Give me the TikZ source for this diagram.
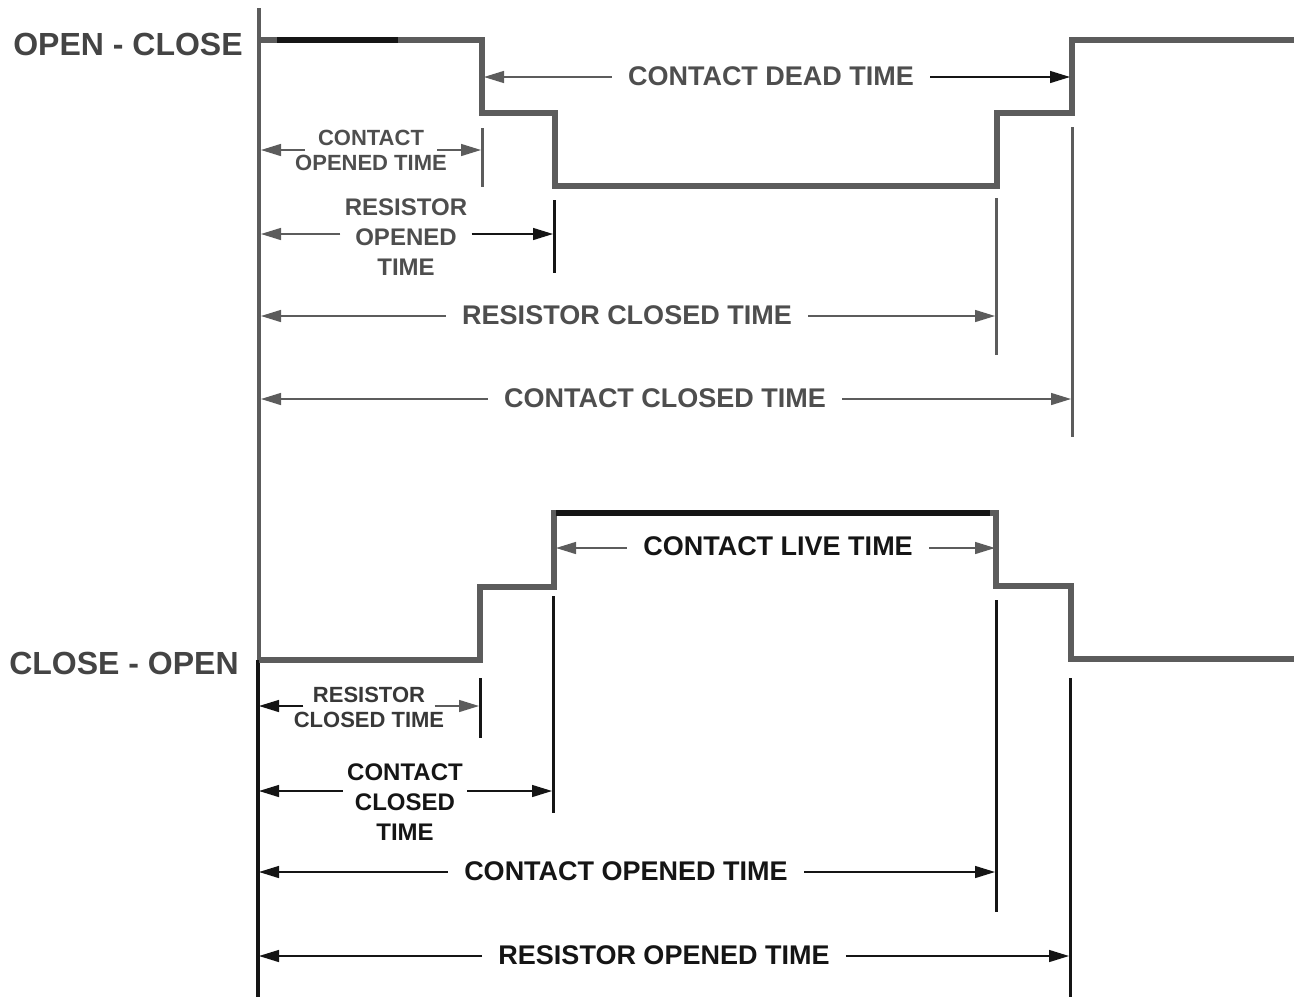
\documentclass[tikz,border=0pt]{standalone}
\usepackage{fontspec}
\setmainfont{Liberation Sans}
\usetikzlibrary{arrows.meta}
\definecolor{wg}{HTML}{5C5C5C}
\definecolor{tg}{HTML}{4E4E4E}
\definecolor{dk}{HTML}{151515}
\begin{document}
\begin{tikzpicture}[x=0.5pt,y=-0.5pt,
  wave/.style={line width=2.8pt, line join=miter, color=wg},
  axisln/.style={line width=1.8pt},
  tick/.style={line width=1.5pt},
  arr/.style={line width=0.7pt, -{Triangle[length=10pt,width=6pt]}},
  big/.style={font=\bfseries\fontsize{16}{18}\selectfont, inner sep=0pt},
  lbl/.style={font=\bfseries\fontsize{13.5}{15}\selectfont, inner xsep=8pt, inner ysep=0pt},
  mid/.style={font=\bfseries\fontsize{12}{15}\selectfont, align=center, inner xsep=2pt, inner ysep=0pt},
  sml/.style={font=\bfseries\fontsize{11}{12.5}\selectfont, align=center, inner xsep=-5pt, inner ysep=0pt}
]
\useasboundingbox (0,0) rectangle (1296,997);

% axis
\draw[axisln, wg] (259,8) -- (259,660);
\draw[axisln, dk] (258,660) -- (258,997);

% waveforms
\draw[wave] (259,40) -- (482,40) -- (482,113) -- (555,113) -- (555,186) -- (997,186) -- (997,113) -- (1072,113) -- (1072,40) -- (1294,40);
\draw[line width=2.8pt, dk] (277,40) -- (398,40);
\draw[wave] (259,660) -- (480,660) -- (480,587) -- (554,587) -- (554,513) -- (996,513) -- (996,586) -- (1071,586) -- (1071,659) -- (1294,659);
\draw[line width=2.8pt, dk] (556,513) -- (990,513);

% ticks
\draw[tick, wg] (482,128) -- (482,187);
\draw[tick, dk] (554,200) -- (554,273);
\draw[tick, wg] (996,198) -- (996,355);
\draw[tick, wg] (1072,127) -- (1072,437);
\draw[tick, dk] (480,678) -- (480,738);
\draw[tick, dk] (553,596) -- (553,813);
\draw[tick, dk] (996,600) -- (996,912);
\draw[tick, dk] (1070,678) -- (1070,997);

% side labels
\node[big, text=dk!80] (oc) at (128,44) {OPEN - CLOSE};
\node[big, text=dk!80] (co) at (124,663) {CLOSE - OPEN};

% arrow end coordinates
\coordinate (deadL) at (484,77);   \coordinate (deadR) at (1070,77);
\coordinate (cotL) at (261,150);   \coordinate (cotR) at (481,150);
\coordinate (rotL) at (261,234);   \coordinate (rotR) at (553,234);
\coordinate (rctL) at (261,316);   \coordinate (rctR) at (995,316);
\coordinate (cctL) at (261,399);   \coordinate (cctR) at (1071,399);
\coordinate (livL) at (556,548);   \coordinate (livR) at (995,548);
\coordinate (rcbL) at (259,706);   \coordinate (rcbR) at (479,706);
\coordinate (ccbL) at (259,791);   \coordinate (ccbR) at (552,791);
\coordinate (cobL) at (259,872);   \coordinate (cobR) at (995,872);
\coordinate (robL) at (259,956);   \coordinate (robR) at (1069,956);

% labels
\node[lbl, text=tg] (dead) at (771,76) {CONTACT DEAD TIME};
\node[sml, text=tg] (cot) at (371,150) {CONTACT\\OPENED TIME};
\node[mid, text=tg] (rot) at (406,237) {RESISTOR\\OPENED\\TIME};
\node[lbl, text=tg] (rct) at (627,315) {RESISTOR CLOSED TIME};
\node[lbl, text=tg] (cct) at (665,398) {CONTACT CLOSED TIME};
\node[lbl, text=dk] (liv) at (778,546) {CONTACT LIVE TIME};
\node[sml, text=dk!85] (rcb) at (369,707) {RESISTOR\\CLOSED TIME};
\node[mid, text=dk] (ccb) at (405,802) {CONTACT\\CLOSED\\TIME};
\node[lbl, text=dk] (cob) at (626,871) {CONTACT OPENED TIME};
\node[lbl, text=dk] (rob) at (664,955) {RESISTOR OPENED TIME};

% arrows
\draw[arr, wg] (dead.west |- deadL) -- (deadL);
\draw[arr, dk] (dead.east |- deadR) -- (deadR);
\draw[arr, wg] (cot.west |- cotL) -- (cotL);
\draw[arr, wg] (cot.east |- cotR) -- (cotR);
\draw[arr, wg] (rot.west |- rotL) -- (rotL);
\draw[arr, dk] (rot.east |- rotR) -- (rotR);
\draw[arr, wg] (rct.west |- rctL) -- (rctL);
\draw[arr, wg] (rct.east |- rctR) -- (rctR);
\draw[arr, wg] (cct.west |- cctL) -- (cctL);
\draw[arr, wg] (cct.east |- cctR) -- (cctR);
\draw[arr, wg] (liv.west |- livL) -- (livL);
\draw[arr, wg] (liv.east |- livR) -- (livR);
\draw[arr, dk] (rcb.west |- rcbL) -- (rcbL);
\draw[arr, wg] (rcb.east |- rcbR) -- (rcbR);
\draw[arr, dk] (ccb.west |- ccbL) -- (ccbL);
\draw[arr, dk] (ccb.east |- ccbR) -- (ccbR);
\draw[arr, dk] (cob.west |- cobL) -- (cobL);
\draw[arr, dk] (cob.east |- cobR) -- (cobR);
\draw[arr, dk] (rob.west |- robL) -- (robL);
\draw[arr, dk] (rob.east |- robR) -- (robR);
\end{tikzpicture}
\end{document}
